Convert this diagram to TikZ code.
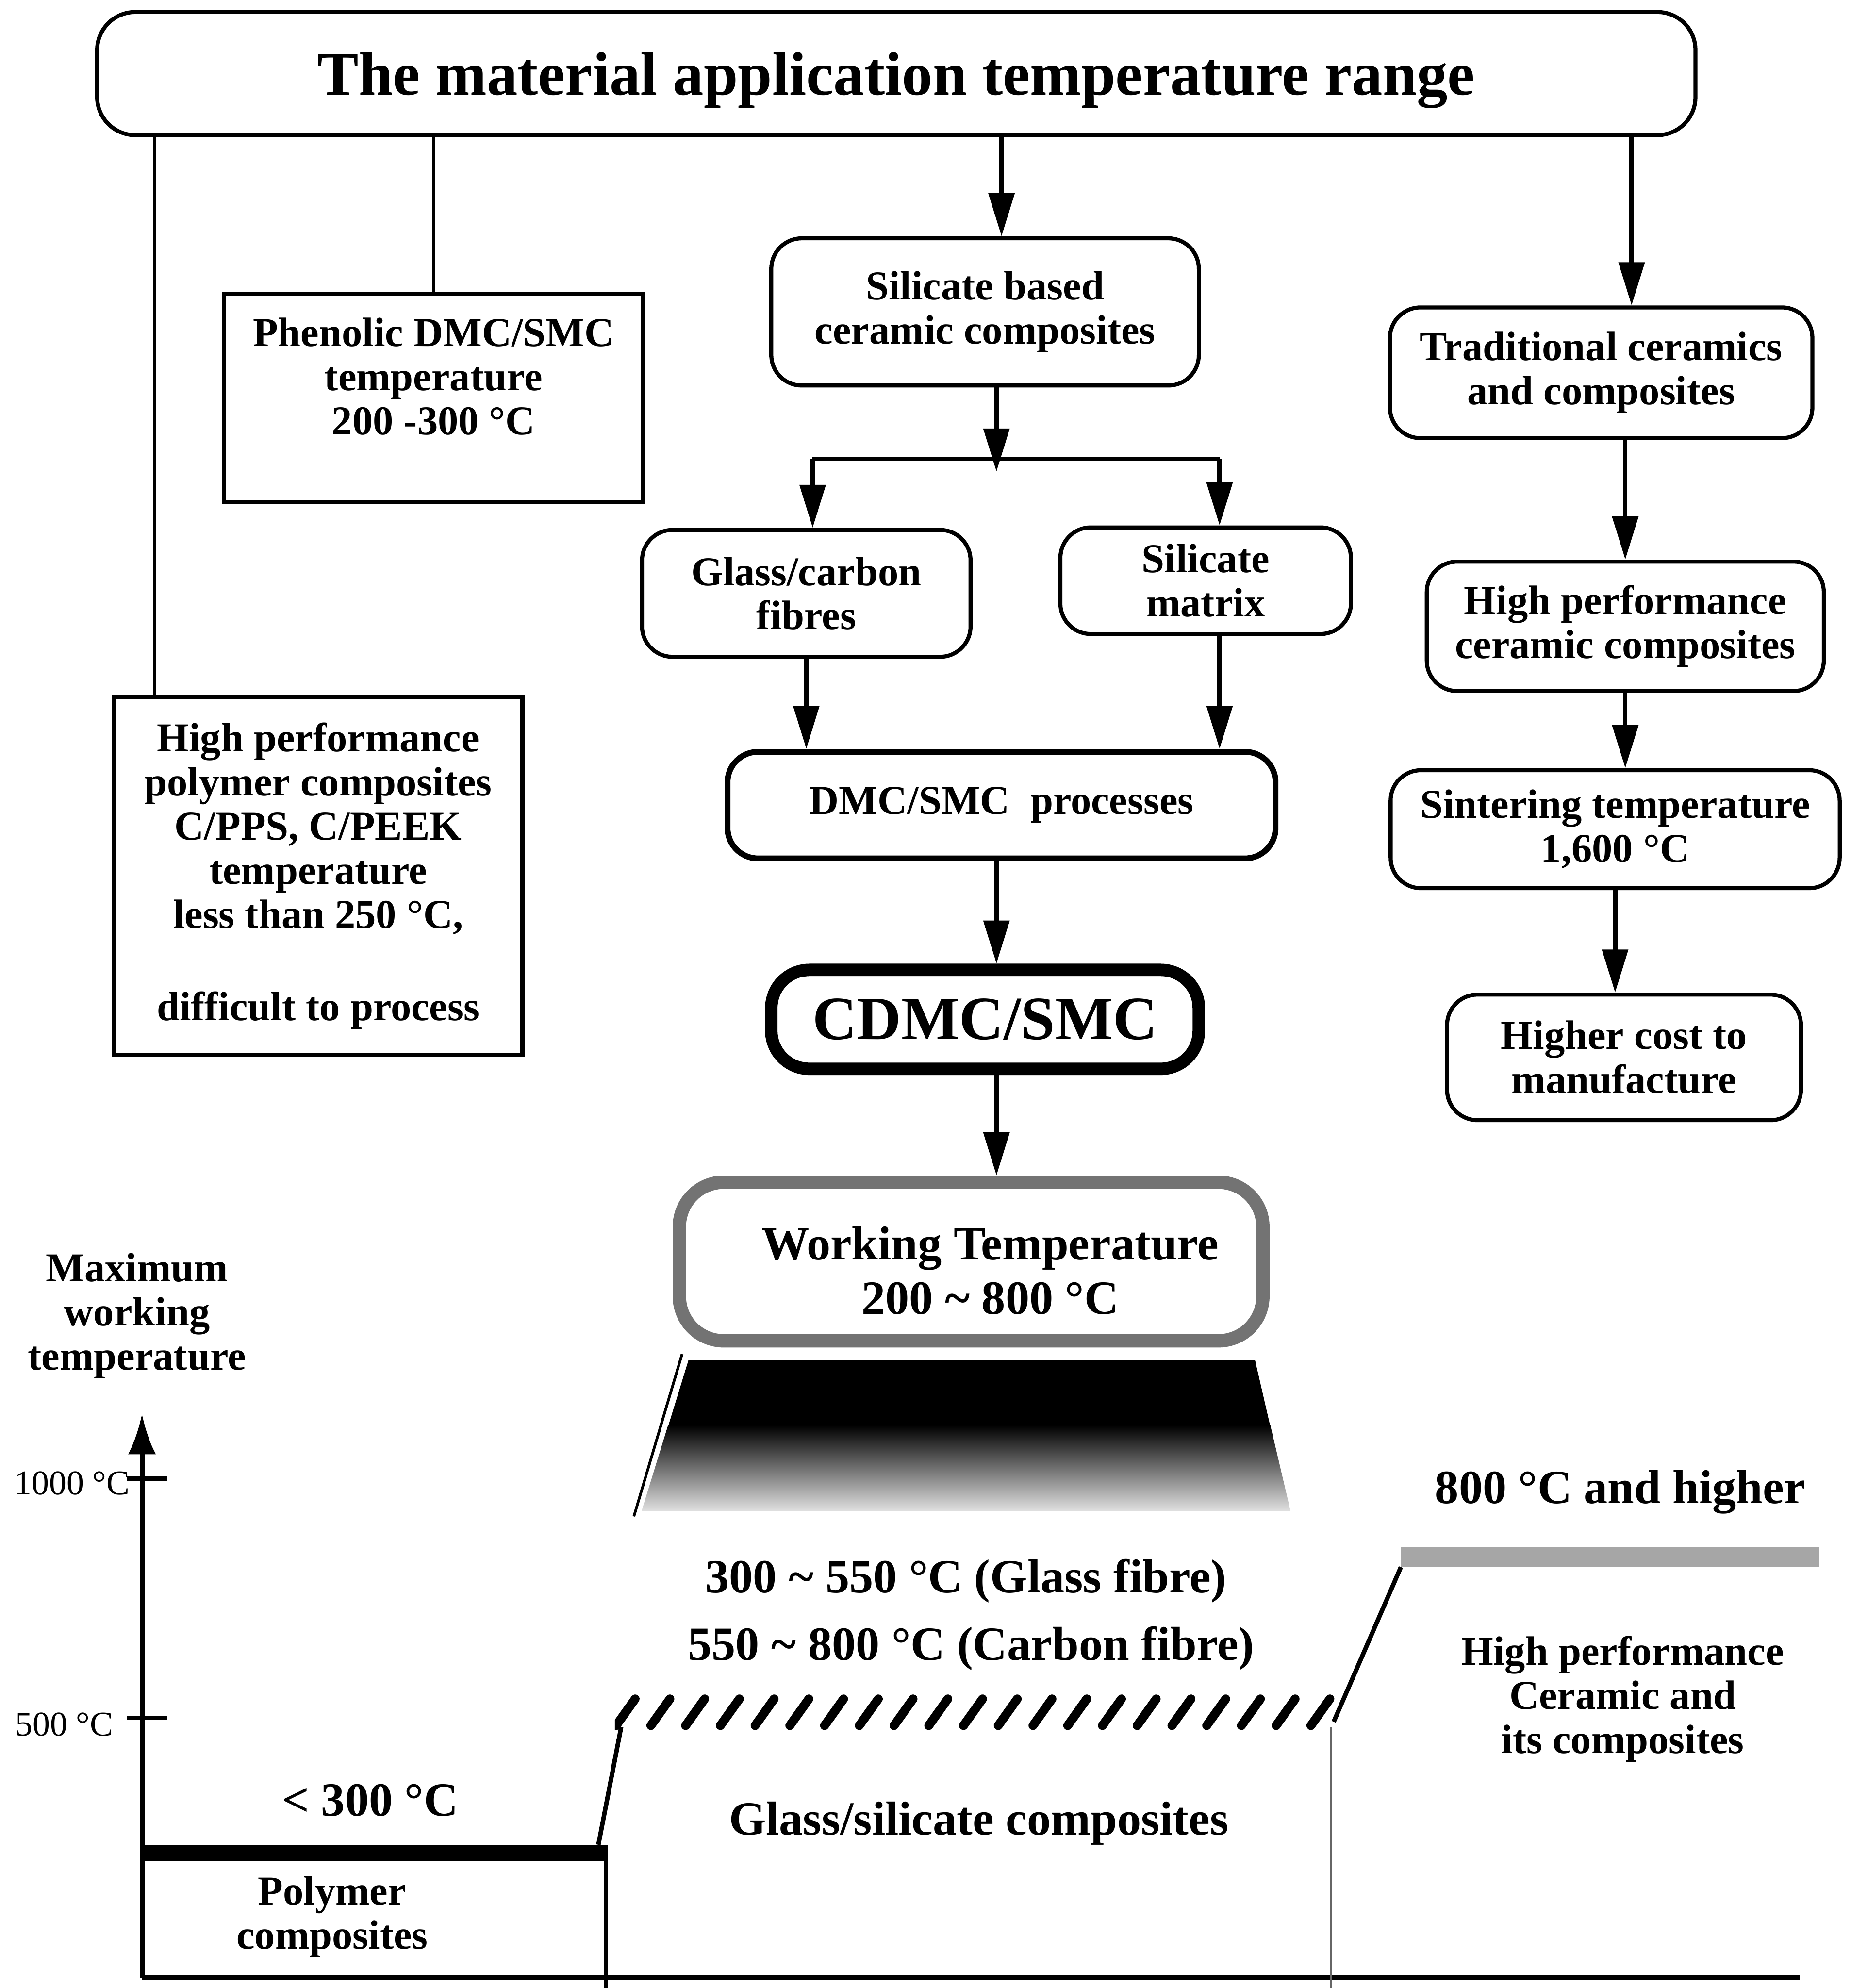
\documentclass[tikz,border=0pt]{standalone}
\usepackage{fontspec}
\setmainfont{Liberation Serif}
\usepackage{tikz}
\usetikzlibrary{arrows.meta,positioning,calc}
\tikzset{>=latex}

\newcommand\flowfont{\fontsize{9.2}{9.9}\selectfont\bfseries}
\newcommand\labfont{\fontsize{10.7}{12.2}\selectfont\bfseries}
\newcommand\tickfont{\fontsize{7.8}{9}\selectfont}

\tikzset{
  rbox/.style={draw, rounded corners=2.4mm, line width=0.9pt, align=center, font=\flowfont, inner sep=0pt},
  sbox/.style={draw, line width=0.9pt, align=center, font=\flowfont, inner sep=0pt},
  arr/.style={-{Triangle[length=3.4mm,width=2mm]}, line width=1pt},
  link/.style={line width=0.6pt},
  chartlab/.style={align=center, font=\labfont},
}

\begin{document}
\begin{tikzpicture}[x=0.01cm, y=-0.01cm]
    \useasboundingbox (0,0) rectangle (1460,1568);

    % flow chart
    \node [rbox, rounded corners=3mm, minimum width=12.6cm, minimum height=0.97cm, text depth=0pt,
           font=\fontsize{13.8}{15}\selectfont\bfseries] (range) at (707,58) {The material application temperature range};
    \node [sbox, minimum width=3.3cm, minimum height=1.64cm] (phenolic) at (342,314) {};
    \node [align=center, font=\flowfont] (phenolictxt) at (342,297) {Phenolic DMC/SMC\\temperature\\200 -300 °C};
    \node [sbox, minimum width=3.22cm, minimum height=2.82cm] (hpp) at (251,691)
          {High performance\\polymer composites\\C/PPS, C/PEEK\\temperature\\less than 250 °C,\\[3.8mm]difficult to process};
    \node [rbox, minimum width=3.37cm, minimum height=1.16cm] (sil) at (777,246) {Silicate based\\ceramic composites};
    \node [rbox, minimum width=2.59cm, minimum height=1cm] (glass) at (636,468) {Glass/carbon\\fibres};
    \node [rbox, minimum width=2.29cm, minimum height=0.84cm] (matrix) at (951,458) {Silicate\\matrix};
    \node [rbox, line width=1.3pt, minimum width=4.32cm, minimum height=0.84cm] (dmc) at (790,635) {DMC/SMC\ \ processes};
    \node [rbox, line width=2.8pt, rounded corners=3mm, minimum width=3.37cm, minimum height=0.78cm,
           font=\fontsize{13.8}{16}\selectfont\bfseries] (cdmc) at (777,804) {CDMC/SMC};
    \node [rbox, line width=3pt, draw=black!55, rounded corners=3.5mm, minimum width=4.6cm, minimum height=1.25cm] (work) at (766,995) {};
    \node [align=center, font=\labfont] (worktxt) at (781,1002) {Working Temperature\\200 \textasciitilde{} 800 °C};
    \node [rbox, minimum width=3.33cm, minimum height=1.03cm] (trad) at (1263,294) {Traditional ceramics\\and composites};
    \node [rbox, minimum width=3.13cm, minimum height=1.02cm] (hpc) at (1282,494) {High performance\\ceramic composites};
    \node [rbox, minimum width=3.54cm, minimum height=0.93cm] (sint) at (1274,654) {Sintering temperature\\1,600 °C};
    \node [rbox, minimum width=2.79cm, minimum height=0.99cm] (cost) at (1281,834) {Higher cost to\\manufacture};

    \coordinate (colA) at (122,0);
    \coordinate (colB) at (790,0);
    \coordinate (colC) at (1287,0);
    \coordinate (split) at (786,362);
    \coordinate (splitL) at (641,362);
    \coordinate (splitR) at (962,362);

    \draw [link] (range.south -| colA) -- (colA |- hpp.north);
    \draw [link] (range.south -| phenolic.north) -- (phenolic.north);
    \draw [arr] (range.south -| colB) -- (colB |- sil.north);
    \draw [arr] (range.south -| colC) -- (colC |- trad.north);
    \draw [arr] (sil.south -| split) -- ([yshift=-1mm]split);
    \draw [line width=1pt] (splitL) -- (splitR);
    \draw [arr] (splitL) -- (splitL |- glass.north);
    \draw [arr] (splitR) -- (splitR |- matrix.north);
    \draw [arr] (glass.south) -- (glass.south |- dmc.north);
    \draw [arr] (splitR |- matrix.south) -- (splitR |- dmc.north);
    \draw [arr] (split |- dmc.south) -- (split |- cdmc.north);
    \draw [arr] (split |- cdmc.south) -- (split |- work.north);
    \draw [arr] (hpc.north |- trad.south) -- (hpc.north);
    \draw [arr] (hpc.south) -- (hpc.south |- sint.north);
    \draw [arr] (sint.south) -- (sint.south |- cost.north);

    % fan below the working temperature box
    \fill [black] (543,1073) -- (990,1073) -- (1002,1125) -- (527,1125) -- cycle;
    \shade [top color=black, bottom color=black!12]
        (527,1124) -- (1002,1124) -- (1018,1192) -- (506,1192) -- cycle;
    \draw [line width=0.6pt] (538,1068) -- (500,1196);

    % temperature chart
    \coordinate (origin) at (112,1560);
    \coordinate (top) at (112,1115);
    \coordinate (p1) at (472,1455);
    \coordinate (p2) at (490,1362);
    \coordinate (p3) at (1052,1358);
    \coordinate (p4) at (1105,1236);

    \draw [line width=1.1pt, -{Latex[length=3.2mm,width=2.2mm]}] (origin) -- (top);
    \draw [line width=1.1pt] (origin) -- (1420,1560);
    \draw [line width=1pt] (100,1166) -- (132,1166);
    \draw [line width=1pt] (100,1355) -- (132,1355);
    \node [anchor=east, font=\tickfont, inner sep=0pt] (t1000) at (103,1170) {1000 °C};
    \node [anchor=east, font=\tickfont, inner sep=0pt] (t500) at (90,1360) {500 °C};
    \node [align=center, font=\flowfont] (ylab) at (108,1038) {Maximum\\working\\temperature};

    \fill [black] (112,1455) rectangle (478,1468);
    \draw [line width=1pt] (478,1455) -- (478,1568);
    \draw [line width=1pt] (p1) -- (p2);
    \begin{scope}
      \clip (485,1335) rectangle (1058,1366);
      \foreach \i in {-1,...,21}
        \draw [line width=2pt, line cap=round] ({486+27.4*\i},1361) -- ({501+27.4*\i},1340);
    \end{scope}
    \draw [line width=1pt] (p3) -- (p4);
    \draw [line width=0.4pt, black!60] (1050,1362) -- (1050,1568);
    \fill [black!35] (1105,1220) rectangle (1435,1236);

    \node [chartlab] (lt300) at (292,1420) {< 300 °C};
    \node [align=center, font=\flowfont] (poly) at (262,1512) {Polymer\\composites};
    \node [chartlab] (glassr) at (762,1247) {300 \textasciitilde{} 550 °C (Glass fibre)};
    \node [chartlab] (carbr) at (766,1300) {550 \textasciitilde{} 800 °C (Carbon fibre)};
    \node [chartlab] (gsc) at (772,1438) {Glass/silicate composites};
    \node [chartlab] (hi800) at (1278,1177) {800 °C and higher};
    \node [align=center, font=\flowfont] (hpcer) at (1280,1340) {High performance\\Ceramic and\\its composites};
\end{tikzpicture}
\end{document}
